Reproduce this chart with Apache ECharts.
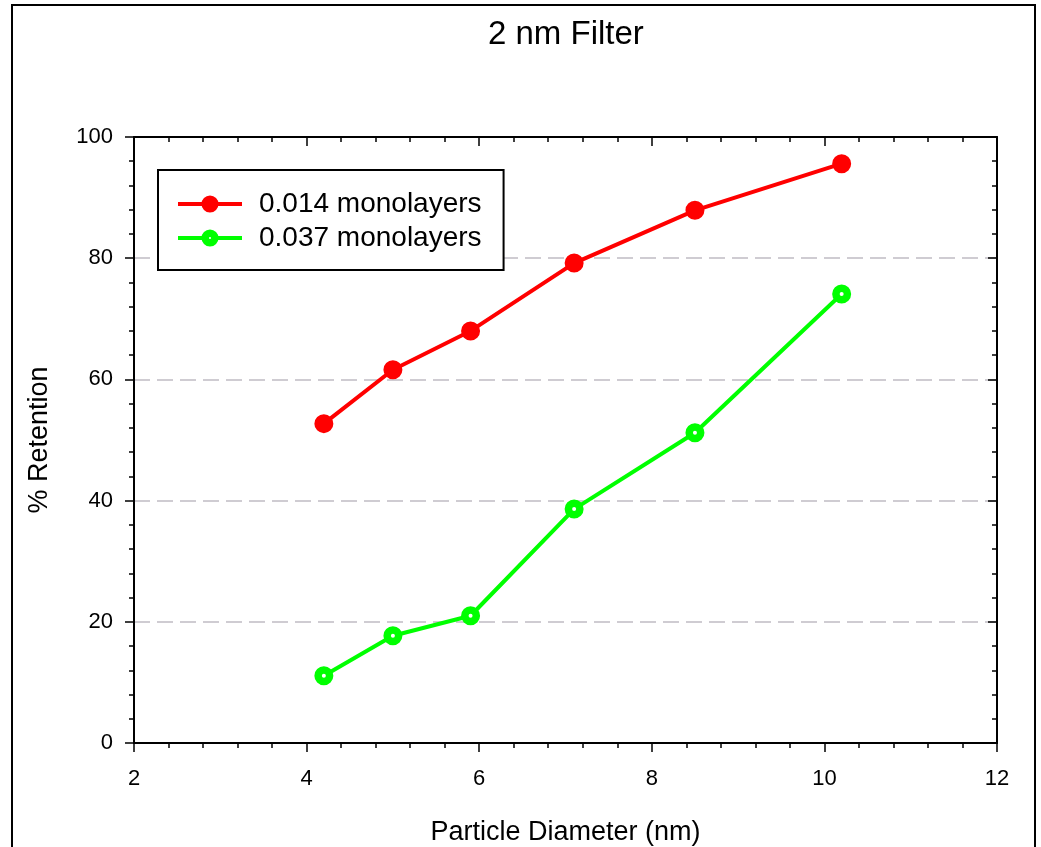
<!DOCTYPE html>
<html>
<head>
<meta charset="utf-8">
<script src="https://cdn.jsdelivr.net/npm/echarts@6/dist/echarts.min.js"></script>
<style>
  html, body { margin: 0; padding: 0; background: #fff; }
  #chart { width: 1041px; height: 847px; }
</style>
</head>
<body>
<div id="chart"></div>
<script>
const titleText = '2 nm Filter';
const xName = 'Particle Diameter (nm)';
const yName = '% Retention';
const seriesNames = ['0.014 monolayers', '0.037 monolayers'];
const diameters = [4.2, 5.0, 5.9, 7.1, 8.5, 10.2];
const retention014 = [52.7, 61.6, 68.0, 79.2, 87.9, 95.6];
const retention037 = [11.1, 17.7, 21.0, 38.6, 51.2, 74.1];
const xTicks = [2, 4, 6, 8, 10, 12];
const yTicks = [0, 20, 40, 60, 80, 100];

const FONT = '"Liberation Sans", Arial, sans-serif';
const chart = echarts.init(document.getElementById('chart'), null, { renderer: 'canvas' });

function pairs(xs, ys) { return xs.map((x, i) => [x, ys[i]]); }

const axisLineStyle = { color: '#000', width: 2 };
const baseX = {
  type: 'value', min: xTicks[0], max: xTicks[xTicks.length - 1], interval: xTicks[1] - xTicks[0],
  axisLine: { show: true, onZero: false, lineStyle: axisLineStyle },
  axisTick: { show: true, length: 9, lineStyle: { color: '#000', width: 1.5 } },
  minorTick: { show: true, splitNumber: 5, length: 5, lineStyle: { color: '#000', width: 1.5 } },
  splitLine: { show: false }
};
const baseY = {
  type: 'value', min: yTicks[0], max: yTicks[yTicks.length - 1], interval: yTicks[1] - yTicks[0],
  axisLine: { show: true, onZero: false, lineStyle: axisLineStyle },
  axisTick: { show: true, length: 9, lineStyle: { color: '#000', width: 1.5 } },
  minorTick: { show: true, splitNumber: 5, length: 5, lineStyle: { color: '#000', width: 1.5 } },
  splitLine: { show: false }
};

const markerSize = 11.5;
const markerBorder = 7.5;
const colors = ['#ff0000', '#00ff00'];
const fills = ['#ff0000', '#ffffff'];
const legendText = { fontFamily: FONT, fontSize: 28, color: '#000', lineHeight: 26, padding: [0, 0, 0, 12] };

chart.setOption({
  animation: false,
  backgroundColor: '#fff',
  title: {
    text: titleText, left: 488, top: 18, padding: 0,
    textStyle: { fontFamily: FONT, fontSize: 33, fontWeight: 'normal', color: '#000' }
  },
  graphic: [{
    type: 'rect', z: -10, silent: true,
    shape: { x: 12, y: 5, width: 1023, height: 900 },
    style: { fill: 'transparent', stroke: '#000', lineWidth: 2 }
  }],
  grid: { left: 134, right: 44, top: 137, bottom: 104, containLabel: false, outerBoundsMode: 'none' },
  legend: {
    left: 158, top: 170, orient: 'vertical',
    padding: [20, 22, 18, 18],
    backgroundColor: '#fff', borderColor: '#000', borderWidth: 2,
    itemWidth: 64, itemHeight: 12, itemGap: 6,
    textStyle: legendText,
    data: seriesNames.map((n, i) => ({
      name: n,
      lineStyle: { color: colors[i], width: 4 },
      itemStyle: { color: fills[i], borderColor: colors[i], borderWidth: markerBorder }
    }))
  },
  xAxis: [
    Object.assign({}, baseX, {
      position: 'bottom', name: xName, nameLocation: 'middle', nameGap: 76,
      nameTextStyle: { fontFamily: FONT, fontSize: 27, color: '#000' },
      axisLabel: { show: true, margin: 25, fontFamily: FONT, fontSize: 22, color: '#000' }
    }),
    Object.assign({}, baseX, {
      position: 'top',
      axisTick: Object.assign({}, baseX.axisTick, { inside: true }),
      axisLabel: { show: false }
    })
  ],
  yAxis: [
    Object.assign({}, baseY, {
      position: 'left', name: yName, nameLocation: 'middle', nameGap: 81,
      nameTextStyle: { fontFamily: FONT, fontSize: 27, color: '#000' },
      axisLabel: { show: true, margin: 21, fontFamily: FONT, fontSize: 22, color: '#000' },
      splitLine: { show: true, lineStyle: { color: '#c0bcc4', width: 1.5, type: [16, 7] } }
    }),
    Object.assign({}, baseY, {
      position: 'right',
      axisTick: Object.assign({}, baseY.axisTick, { inside: true }),
      axisLabel: { show: false }
    })
  ],
  series: [
    {
      name: seriesNames[0], type: 'line', xAxisIndex: 0, yAxisIndex: 0,
      data: pairs(diameters, retention014),
      symbol: 'circle', symbolSize: markerSize,
      lineStyle: { color: colors[0], width: 4 },
      itemStyle: { color: fills[0], borderColor: colors[0], borderWidth: markerBorder },
      z: 3
    },
    {
      name: seriesNames[1], type: 'line', xAxisIndex: 0, yAxisIndex: 0,
      data: pairs(diameters, retention037),
      symbol: 'circle', symbolSize: markerSize,
      lineStyle: { color: colors[1], width: 4 },
      itemStyle: { color: fills[1], borderColor: colors[1], borderWidth: markerBorder },
      z: 3
    }
  ]
});
</script>
</body>
</html>
